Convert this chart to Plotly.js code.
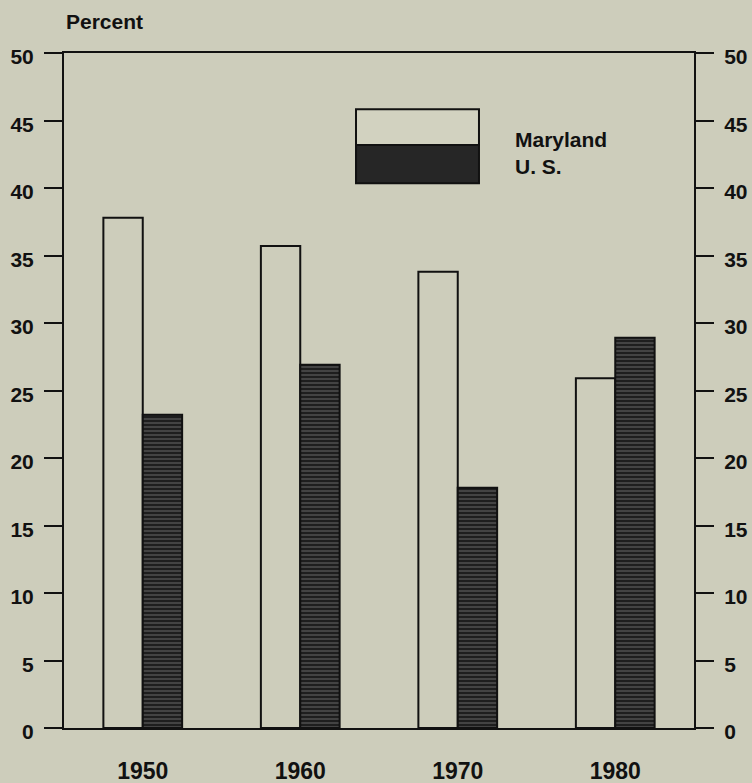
<!DOCTYPE html>
<html>
<head>
<meta charset="utf-8">
<script src="https://cdn.plot.ly/plotly-3.0.1.min.js"></script>
<style>
html,body{margin:0;padding:0;background:#cdcdbb;}
#chart{width:752px;height:783px;}
</style>
</head>
<body>
<div id="chart"></div>
<script>
const years = ["1950", "1960", "1970", "1980"];
const maryland = [37.8, 35.7, 33.8, 25.9];
const us = [23.2, 26.9, 17.8, 28.9];
const yTicks = [0, 5, 10, 15, 20, 25, 30, 35, 40, 45, 50];
const seriesNames = ["Maryland", "U. S."];

const bg = "#cdcdbb";
const ink = "#111111";
const font = "Liberation Sans, Arial, Helvetica, sans-serif";

const traces = [
  {
    type: "bar", x: years, y: maryland, name: seriesNames[0],
    marker: { color: bg, line: { color: ink, width: 2 } },
    hoverinfo: "skip"
  },
  {
    type: "bar", x: years, y: us, name: seriesNames[1],
    marker: {
      color: "#222222",
      line: { color: ink, width: 2 },
      pattern: { shape: "-", bgcolor: "#1e1e1e", fgcolor: "#7a7a7a", size: 4, solidity: 0.2 }
    },
    hoverinfo: "skip"
  },
  {
    type: "scatter", x: years, y: maryland, yaxis: "y2", mode: "none",
    showlegend: false, hoverinfo: "skip"
  }
];

const yCommon = {
  range: [0, 50], tickvals: yTicks, ticktext: yTicks.map(String),
  ticks: "outside", ticklen: 18, tickwidth: 2, tickcolor: ink,
  showline: true, linewidth: 2, linecolor: ink,
  showgrid: false, zeroline: false, fixedrange: true,
  tickfont: { family: font, size: 21, color: ink, weight: "bold" },
  ticklabelstandoff: 6, ticklabelshift: 4
};

const layout = {
  width: 752, height: 783,
  paper_bgcolor: bg, plot_bgcolor: bg,
  margin: { l: 64, r: 58, t: 53, b: 55, pad: 0 },
  barmode: "group", bargap: 0.5, bargroupgap: 0,
  showlegend: false,
  xaxis: {
    type: "category", range: [-0.5, 3.5],
    showline: true, linewidth: 2, linecolor: ink, mirror: true,
    ticks: "", showgrid: false, zeroline: false, fixedrange: true,
    tickfont: { family: font, size: 23, color: ink, weight: "bold" },
    ticklabelstandoff: 21
  },
  yaxis: Object.assign({}, yCommon, { side: "left" }),
  yaxis2: Object.assign({}, yCommon, { side: "right", overlaying: "y" }),
  shapes: [
    { type: "rect", xref: "paper", yref: "paper", x0: 0.4635, x1: 0.6587, y0: 0.8637, y1: 0.9166,
      fillcolor: "#d2d2c0", line: { color: ink, width: 2 } },
    { type: "rect", xref: "paper", yref: "paper", x0: 0.4635, x1: 0.6587, y0: 0.807, y1: 0.8637,
      fillcolor: "#262626", line: { color: ink, width: 2 } }
  ],
  annotations: [
    { text: "Percent", xref: "paper", yref: "paper", x: 0.0, y: 1.0, xanchor: "left", yanchor: "bottom",
      yshift: 18, showarrow: false, font: { family: font, size: 21, color: ink, weight: "bold" } },
    { text: seriesNames[0], xref: "paper", yref: "paper", x: 0.7127, y: 0.872, xanchor: "left", yanchor: "middle",
      showarrow: false, font: { family: font, size: 21, color: ink, weight: "bold" } },
    { text: seriesNames[1], xref: "paper", yref: "paper", x: 0.7127, y: 0.832, xanchor: "left", yanchor: "middle",
      showarrow: false, font: { family: font, size: 21, color: ink, weight: "bold" } }
  ]
};

Plotly.newPlot("chart", traces, layout, { staticPlot: true, displayModeBar: false });
</script>
</body>
</html>
